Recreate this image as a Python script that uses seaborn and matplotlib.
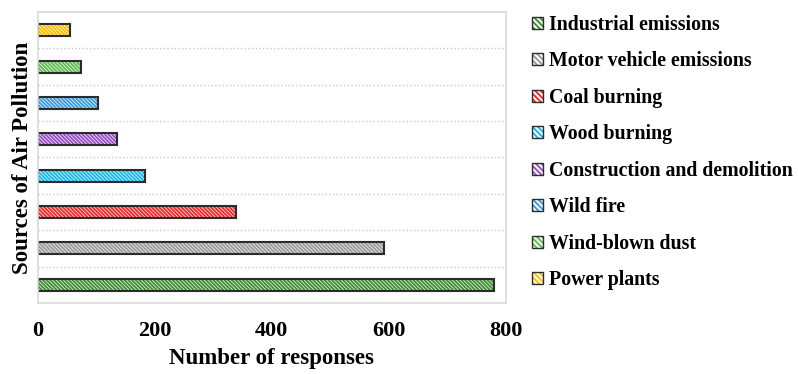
import numpy as np
import pandas as pd
import seaborn as sns
import matplotlib.pyplot as plt
from matplotlib.patches import Rectangle, Patch
from matplotlib.legend_handler import HandlerTuple

# data, top row of the chart first
sources = ['Power plants', 'Wind-blown dust', 'Wild fire', 'Construction and demolition',
           'Wood burning', 'Coal burning', 'Motor vehicle emissions', 'Industrial emissions']
responses = [54, 73, 103, 136, 183, 339, 592, 780]
colors = ['#ffc000', '#5cbf4e', '#3d9de0', '#9b4fca', '#17b8ee', '#f52a2a', '#9a9a9a', '#3f8f35']
xticks = [0, 200, 400, 600, 800]

df = pd.DataFrame({'source': sources, 'responses': responses})
palette = dict(zip(sources, colors))

sns.set_style('white')
plt.rcParams['font.family'] = ['Liberation Serif', 'DejaVu Serif']
plt.rcParams['font.weight'] = 'bold'
plt.rcParams['text.color'] = 'black'
plt.rcParams['axes.labelcolor'] = 'black'
plt.rcParams['xtick.labelcolor'] = 'black'
plt.rcParams['hatch.linewidth'] = 1.4

fig = plt.figure(figsize=(7.98, 3.74), dpi=100)
ax = fig.add_axes([0.0476, 0.19, 0.586, 0.778])

sns.barplot(data=df, x='responses', y='source', hue='source', palette=palette,
            order=sources, orient='h', width=0.33, legend=False, ax=ax)

hatch = '\\' * 9
for p, c in zip(ax.patches, colors):
    p.set_facecolor('white')
    p.set_edgecolor(c)
    p.set_linewidth(0)
    p.set_hatch(hatch)
    ax.add_patch(Rectangle(p.get_xy(), p.get_width(), p.get_height(),
                           fill=False, edgecolor='#2b2b2b', lw=1.5, zorder=p.get_zorder() + 0.1))

ax.set_xlim(0, 800)
ax.set_ylim(len(sources) - 0.5, -0.5)
ax.set_xticks(xticks)
ax.set_xticklabels([str(t) for t in xticks], fontsize=16, fontweight='bold')
ax.set_yticks([])
ax.set_yticks(np.arange(0.5, len(sources) - 1), minor=True)
ax.tick_params(axis='y', which='minor', length=0)
ax.grid(which='minor', axis='y', linestyle=':', color='#c8c8c8', lw=1.0)
ax.tick_params(axis='x', length=6, color='#d9d9d9', width=1.2, pad=7)
for s in ax.spines.values():
    s.set_color('#d9d9d9')
    s.set_linewidth(1.2)

ax.set_xlabel('Number of responses', fontsize=16.5, fontweight='bold', labelpad=5)
ax.set_ylabel('Sources of Air Pollution', fontsize=16.5, fontweight='bold', labelpad=0)

# legend, from the bottom bar up
handles = []
labels = []
for s, c in list(zip(sources, colors))[::-1]:
    h1 = Patch(facecolor='white', edgecolor=c, hatch='\\' * 6, lw=0)
    h2 = Patch(facecolor='none', edgecolor='#2b2b2b', lw=1.0)
    handles.append((h1, h2))
    labels.append(s)
fig.legend(handles, labels, loc='upper left', bbox_to_anchor=(0.652, 0.992),
           frameon=False, handlelength=0.55, handleheight=0.55,
           handletextpad=0.3, labelspacing=0.83, borderaxespad=0.2,
           handler_map={tuple: HandlerTuple(ndivide=1, pad=0)},
           prop={'weight': 'bold', 'size': 14.3})

fig.savefig('out.png', dpi=100)
